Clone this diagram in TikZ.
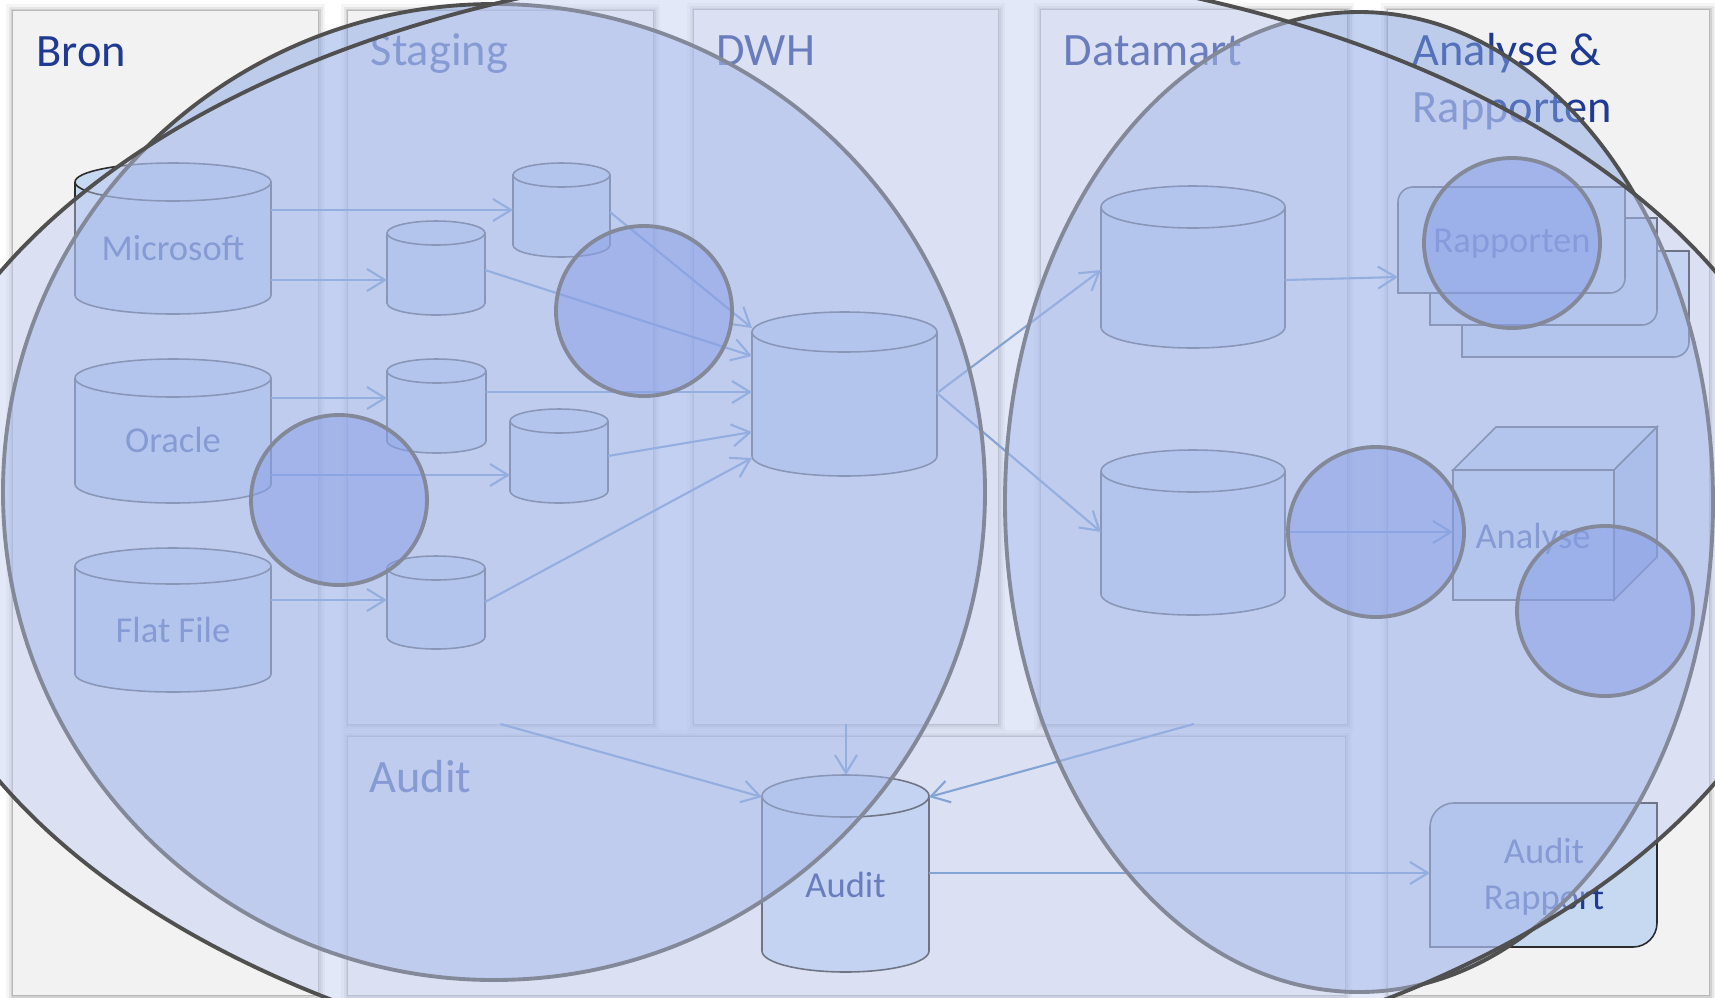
\documentclass[tikz,border=0pt]{standalone}
\usepackage{fontspec}
\setmainfont{Carlito}
\usetikzlibrary{arrows.meta,fit,calc}
\definecolor{panelgray}{HTML}{F2F2F2}
\definecolor{txtblue}{HTML}{1F3A93}
\definecolor{cylfillc}{HTML}{C6D9F1}
\definecolor{sidefill}{HTML}{A9BFE4}
\definecolor{cyledge}{HTML}{2B2B2B}
\definecolor{arrowc}{HTML}{4F81BD}
\definecolor{bigfill}{RGB}{138,168,228}
\definecolor{smallfill}{RGB}{84,115,219}
\definecolor{topfill}{RGB}{194,205,242}
\definecolor{ovedge}{HTML}{505050}
% cylinder: name, x1, ytop, x2, ybottom, ry, label, label baseline
\newcommand\mycyl[8]{%
  \pgfmathsetmacro\cxx{(#2+#4)/2}\pgfmathsetmacro\rxx{(#4-#2)/2}%
  \path[cylsty] (#2,{#3+#6}) -- (#2,{#5-#6}) arc[start angle=180,end angle=0,x radius=\rxx,y radius=#6]
     -- (#4,{#3+#6}) arc[start angle=0,end angle=-180,x radius=\rxx,y radius=#6] -- cycle;
  \draw[draw=cyledge,line width=0.45pt] (#2,{#3+#6}) arc[start angle=180,end angle=0,x radius=\rxx,y radius=#6];
  \node[inner sep=0pt,outer sep=0pt,fit={(#2,#3)(#4,#5)}] (#1) {};
  \node[lbl] at (\cxx,#8) {#7};
}
% box with rounded top-left and bottom-right corners: name, x1, y1, x2, y2, r
\newcommand\rdbox[6]{%
  \path[cylsty] (#2,{#3+#6}) arc[start angle=180,end angle=270,radius=#6] -- (#4,#3)
     -- (#4,{#5-#6}) arc[start angle=0,end angle=90,radius=#6] -- (#2,#5) -- cycle;
  \node[inner sep=0pt,outer sep=0pt,fit={(#2,#3)(#4,#5)}] (#1) {};
}
\newcommand\pshadow[4]{%
  \foreach \w/\o in {14/0.04,9/0.06,5/0.09,2/0.12}{\draw[black,draw opacity=\o,line width=\w*0.1mm] (#1,#2) rectangle (#3,#4);}%
}
\begin{document}
\begin{tikzpicture}[x=0.1mm,y=-0.1mm,
  panel/.style={fill=panelgray,inner sep=0pt,outer sep=0pt},
  ttl/.style={text=txtblue,font=\fontsize{13.2}{16}\selectfont,anchor=base west,inner sep=0pt},
  lbl/.style={text=txtblue,font=\fontsize{10.4}{13}\selectfont,inner sep=0pt,anchor=base},
  cylsty/.style={fill=cylfillc,draw=cyledge,line width=0.45pt},
  arr/.style={draw=arrowc,line width=0.6pt,-{Straight Barb[length=1.8mm,width=2.2mm]}},
  bigov/.style={fill=bigfill,fill opacity=0.5,draw=ovedge,line width=1.1pt},
  smallov/.style={fill=smallfill,fill opacity=0.5,draw=ovedge,line width=1.1pt},
  topov/.style={fill=topfill,fill opacity=0.46,draw=ovedge,line width=1.1pt}]
\useasboundingbox (0,0) rectangle (1715,997);
\fill[white] (0,0) rectangle (1715,997);
% panel shadows
\pshadow{13}{11}{318}{995}
\pshadow{348}{11}{653}{724}
\pshadow{694}{10}{998}{724}
\pshadow{1041}{10}{1347}{724}
\pshadow{1388}{10}{1709}{995}
\pshadow{348}{737}{1345}{995}
% panels
\node[panel,fit={(13,11)(318,995)}] (bron) {};
\node[panel,fit={(348,11)(653,724)}] (stag) {};
\node[panel,fit={(694,10)(998,724)}] (dwh) {};
\node[panel,fit={(1041,10)(1347,724)}] (dmart) {};
\node[panel,fit={(1388,10)(1709,995)}] (anap) {};
\node[panel,fit={(348,737)(1345,995)}] (audp) {};
% titles
\node[ttl] (tbron) at (36,66) {Bron};
\node[ttl] (tstag) at (370,65) {Staging};
\node[ttl] (tdwh) at (716,65) {DWH};
\node[ttl] (tdm) at (1063,65) {Datamart};
\node[ttl] (tana1) at (1412,65) {Analyse \&};
\node[ttl] (tana2) at (1412,122) {Rapporten};
\node[ttl] (taud) at (369,792) {Audit};
% cylinders
\mycyl{ms}{75}{163}{271}{314}{19}{Microsoft}{260}
\mycyl{orc}{75}{359}{271}{503}{19}{Oracle}{452}
\mycyl{ff}{75}{548}{271}{692}{18}{Flat File}{642}
\mycyl{st1}{513}{163}{610}{257}{12}{}{210}
\mycyl{st2}{387}{221}{485}{315}{12}{}{270}
\mycyl{st3}{387}{359}{486}{453}{12}{}{400}
\mycyl{st4}{510}{409}{608}{503}{12}{}{450}
\mycyl{st5}{387}{556}{485}{649}{12}{}{600}
\mycyl{dwhc}{752}{312}{937}{476}{20}{}{400}
\mycyl{dm1}{1101}{186}{1285}{348}{21}{}{270}
\mycyl{dm2}{1101}{450}{1285}{615}{21}{}{530}
\mycyl{aud}{762}{775}{929}{972}{21}{Audit}{897}
% report boxes
\rdbox{rb3}{1462}{251}{1689}{357}{15}
\rdbox{rb2}{1430}{218}{1657}{325}{15}
\rdbox{rb1}{1398}{187}{1625}{293}{15}
\node[lbl] at (1512,252) {Rapporten};
% cube
\path[cylsty] (1453,470) -- (1496,427) -- (1657,427) -- (1614,470) -- cycle;
\path[cylsty,fill=sidefill] (1614,470) -- (1657,427) -- (1657,557) -- (1614,600) -- cycle;
\path[cylsty] (1453,470) rectangle (1614,600);
\node[inner sep=0pt,outer sep=0pt,fit={(1453,470)(1614,600)}] (cube) {};
\node[lbl] at (1533,548) {Analyse};
% audit report
\rdbox{arep}{1430}{803}{1657}{947}{24}
\node[lbl] at (1544,863) {Audit};
\node[lbl] at (1544,909) {Rapport};
% connectors
\draw[arr] (ms.east |- st1.west) -- (st1.west);
\draw[arr] (ms.east |- 0,280) -- (st2.west |- 0,280);
\draw[arr] (orc.east |- 0,398) -- (st3.west |- 0,398);
\draw[arr] (orc.east |- 0,475) -- (st4.west |- 0,475);
\draw[arr] (ff.east |- 0,600) -- (st5.west |- 0,600);
\draw[arr] (st1.east |- 0,212) -- (dwhc.west |- 0,328);
\draw[arr] (st2.east |- 0,270) -- (dwhc.west |- 0,356);
\draw[arr] (st3.east |- 0,392) -- (dwhc.west |- 0,392);
\draw[arr] (st4.east |- 0,456) -- (dwhc.west |- 0,432);
\draw[arr] (st5.east |- 0,602) -- (dwhc.west |- 0,458);
\draw[arr] (dwhc.east |- 0,393) -- (dm1.west |- 0,270);
\draw[arr] (dwhc.east |- 0,393) -- (dm2.west |- 0,532);
\draw[arr] (dm1.east |- 0,280) -- (rb1.west |- 0,277);
\draw[arr] (dm2.east |- 0,532) -- (cube.west |- 0,532);
\draw[arr] (stag.south) -- (aud.west |- 0,797);
\draw[arr] (dwh.south) -- (dwh.south |- aud.north);
\draw[arr] (dmart.south) -- (aud.east |- 0,797);
\draw[arr] (aud.east |- 0,873) -- (arep.west |- 0,873);
% overlay shapes
\draw[bigov] (494,492) ellipse [x radius=491,y radius=488];
\draw[bigov] (1359,502) ellipse [x radius=354,y radius=490];
\draw[smallov] (644,311) ellipse [x radius=88,y radius=85];
\draw[smallov] (339,500) ellipse [x radius=88,y radius=85];
\draw[smallov] (1512,243) ellipse [x radius=88,y radius=85];
\draw[smallov] (1376,532) ellipse [x radius=88,y radius=85];
\draw[smallov] (1605,611) ellipse [x radius=88,y radius=85];
\draw[topov] (858,527) ellipse [x radius=961,y radius=565];
\end{tikzpicture}
\end{document}
